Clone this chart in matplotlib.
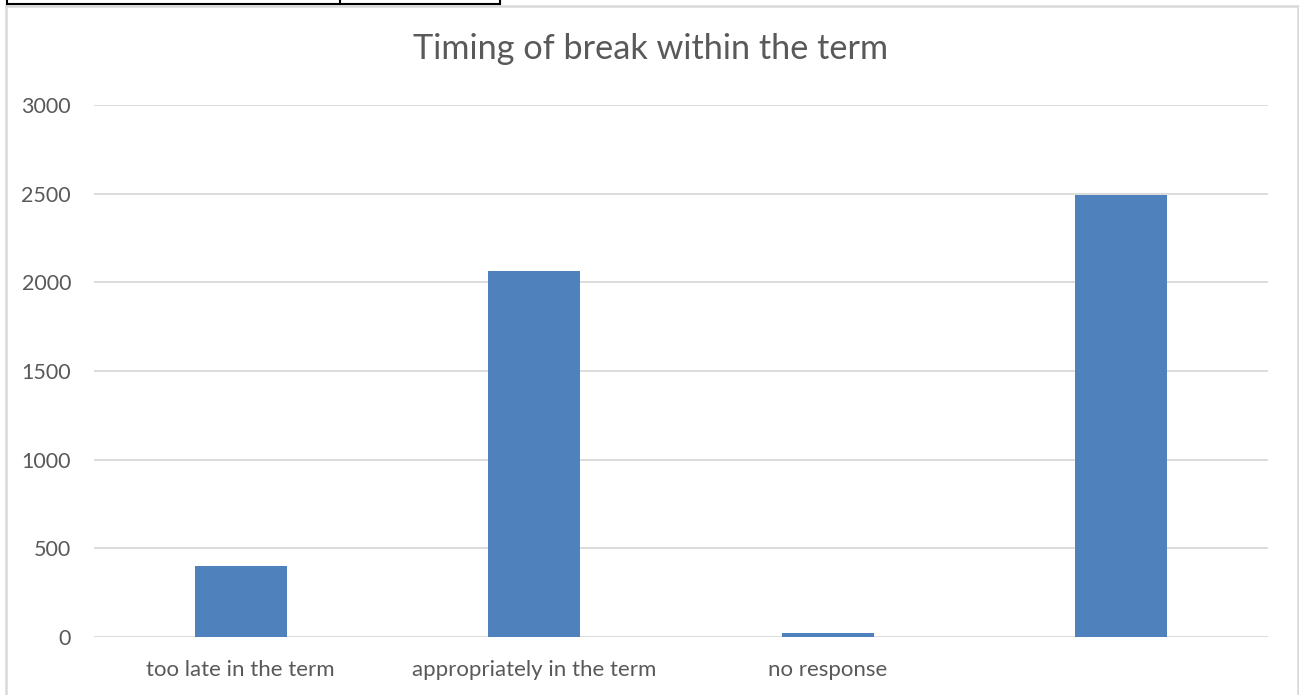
import matplotlib
matplotlib.use("Agg")
import matplotlib.pyplot as plt
from matplotlib.lines import Line2D

# data
categories = ["too late in the term", "appropriately in the term", "no response", ""]
counts = [400, 2065, 20, 2495]
y_ticks = [0, 500, 1000, 1500, 2000, 2500, 3000]

bar_color = "#4F81BD"
text_color = "#595959"
grid_color = "#D9D9D9"

plt.rcParams["font.family"] = ["Lato", "DejaVu Sans"]

W, H = 1299, 695
fig = plt.figure(figsize=(W / 100, H / 100), dpi=100, facecolor="white")
ax = fig.add_axes([94 / W, 58 / H, (1268 - 94) / W, (637 - 105) / H])

x = list(range(len(categories)))
ax.bar(x, counts, width=0.315, color=bar_color, zorder=3)

ax.set_xlim(-0.5, len(categories) - 0.5)
ax.set_ylim(0, 3000)
ax.set_yticks(y_ticks)
ax.set_yticklabels([str(v) for v in y_ticks])
ax.set_xticks(x)
ax.set_xticklabels(categories)
ax.tick_params(axis="x", length=0, labelsize=16, colors=text_color, pad=16.5)
ax.tick_params(axis="y", length=0, labelsize=15.5, colors=text_color, pad=16.5)
ax.yaxis.grid(True, color=grid_color, linewidth=1.3, zorder=0)
for s in ax.spines.values():
    s.set_visible(False)

fig.text(651 / W, 1 - 49 / H, "Timing of break within the term", ha="center", va="center",
         fontsize=24.7, color=text_color)

# chart frame (light gray) and table fragment at the top left
fig.add_artist(Line2D([6 / W, 6 / W], [0, 1 - 6 / H], color=grid_color, linewidth=1.8))
fig.add_artist(Line2D([6 / W, 1298 / W], [1 - 6 / H, 1 - 6 / H], color=grid_color, linewidth=1.8))
fig.add_artist(Line2D([1298 / W, 1298 / W], [0, 1 - 6 / H], color=grid_color, linewidth=1.8))
for xv in [7, 340, 500]:
    fig.add_artist(Line2D([xv / W, xv / W], [1 - 4 / H, 1], color="black", linewidth=1.5))
fig.add_artist(Line2D([7 / W, 500 / W], [1 - 4 / H, 1 - 4 / H], color="black", linewidth=1.5))

fig.savefig("out.png", dpi=100, facecolor="white")
